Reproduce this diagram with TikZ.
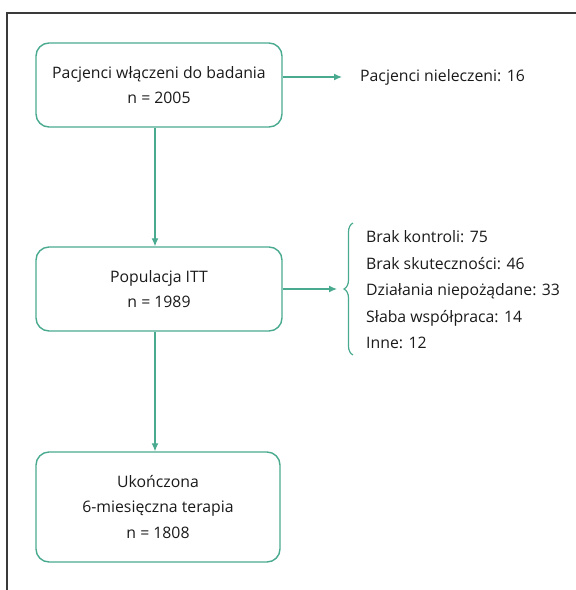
\documentclass[tikz,border=0pt]{standalone}
\usepackage{fontspec}
\setmainfont{Open Sans}
\usetikzlibrary{arrows.meta,decorations.pathreplacing}
\definecolor{tealc}{HTML}{4AAA8F}
\definecolor{framec}{HTML}{3A3A3A}
\definecolor{txt}{HTML}{1A1A1A}
\begin{document}
\begin{tikzpicture}[x=1pt,y=-1pt,
  box/.style={draw=tealc, line width=1.4pt, rounded corners=13pt, align=center,
    text=txt, font=\fontsize{15.8}{25.5}\selectfont, inner sep=0pt},
  arr/.style={draw=tealc, line width=1.2pt, -{Latex[length=8pt,width=7pt]}},
  lbl/.style={text=txt, font=\fontsize{15.8}{26.5}\selectfont, inner sep=0pt, anchor=west, align=left}]
\useasboundingbox (0,0) rectangle (576,590);
\draw[framec, line width=1.2pt] (576,13) -- (7,13) -- (7,590);
\node[box, minimum width=246pt, minimum height=84pt] (b1) at (159,85) {Pacjenci włączeni do badania\\n = 2005};
\node[box, minimum width=246pt, minimum height=84pt] (b2) at (159,289) {Populacja ITT\\n = 1989};
\node[box, minimum width=244pt, minimum height=110pt] (b3) at (158,507) {Ukończona\\6-miesięczna terapia\\n = 1808};
\coordinate (vx) at (155,0);
\draw[arr] (b1.south -| vx) -- (b2.north -| vx);
\draw[arr] (b2.south -| vx) -- (b3.north -| vx);
\node[lbl] (nl) at (360,77) {Pacjenci nieleczeni: 16};
\draw[arr] (b1.east |- nl.west) -- ([xshift=-18pt]nl.west);
\node[lbl] (list) at (366,290) {Brak kontroli: 75\\Brak skuteczności: 46\\Działania niepożądane: 33\\Słaba współpraca: 14\\Inne: 12};
\coordinate (bt) at (353,355);
\coordinate (bb) at (353,223);
\draw[tealc, line width=1.2pt, decorate, decoration={brace, amplitude=9pt, aspect=0.5}] (bt) -- (bb);
\draw[arr] (b2.east) -- (337,289);
\end{tikzpicture}
\end{document}
